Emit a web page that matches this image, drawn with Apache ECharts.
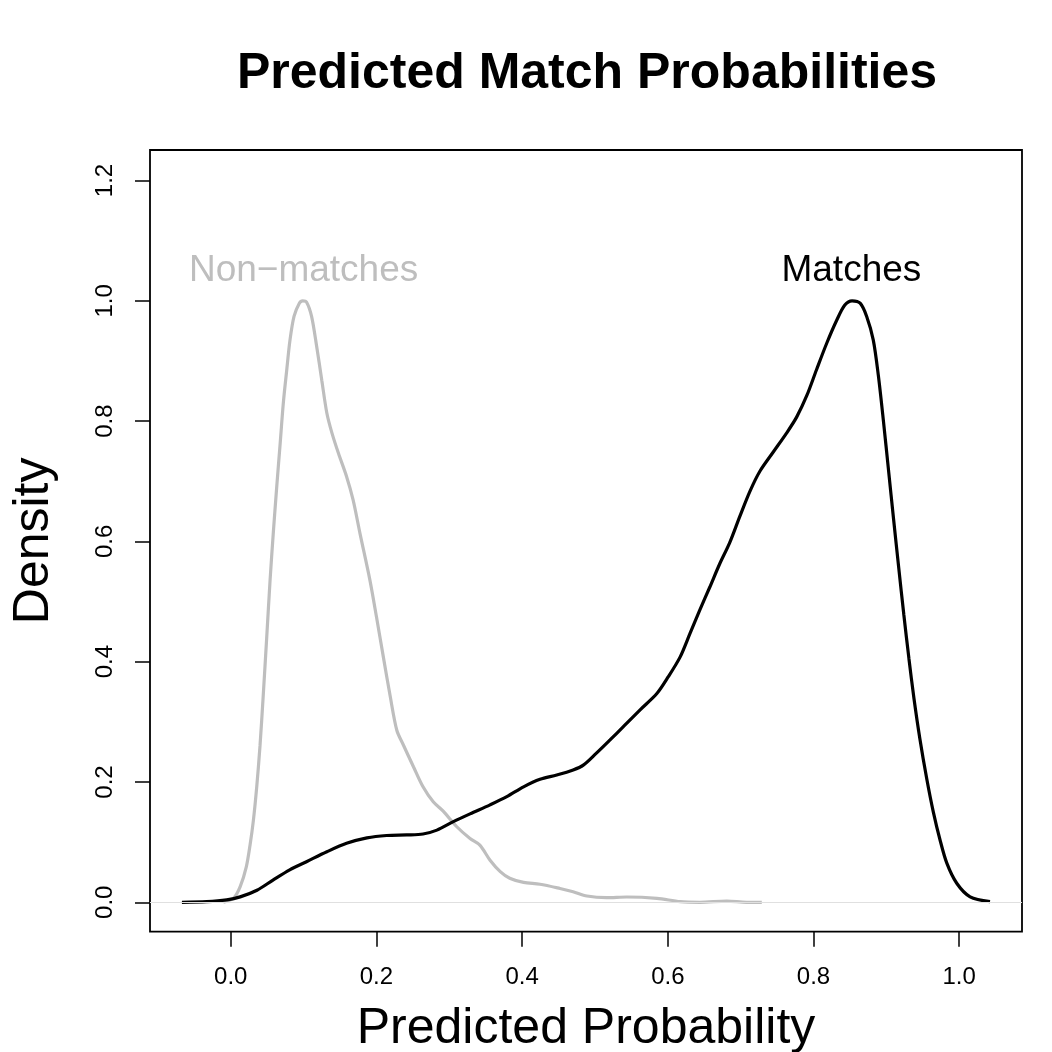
<!DOCTYPE html>
<html>
<head>
<meta charset="utf-8">
<script src="https://cdn.jsdelivr.net/npm/echarts@6/dist/echarts.min.js"></script>
<style>html,body{margin:0;padding:0;background:#fff;}#chart{width:1052px;height:1052px;}</style>
</head>
<body>
<div id="chart"></div>
<script>
// Non-matches density (gray)
const nonMatchX = [-0.01, 0.004, 0.013, 0.0214, 0.0265, 0.031, 0.0357, 0.0402, 0.0447, 0.0494, 0.054, 0.0585, 0.0631, 0.0677, 0.0722, 0.0769, 0.0814, 0.0869, 0.0942, 0.0988, 0.104, 0.111, 0.118, 0.125, 0.132, 0.139, 0.148, 0.159, 0.168, 0.1775, 0.191, 0.200, 0.2095, 0.219, 0.228, 0.237, 0.251, 0.264, 0.278, 0.292, 0.310, 0.3285, 0.342, 0.356, 0.370, 0.383, 0.402, 0.4246, 0.452, 0.470, 0.489, 0.516, 0.5436, 0.585, 0.617, 0.644, 0.681, 0.708, 0.729];
const nonMatchY = [0.0, 0.007, 0.026, 0.059, 0.095, 0.135, 0.192, 0.26, 0.345, 0.44, 0.535, 0.615, 0.69, 0.76, 0.83, 0.885, 0.935, 0.974, 0.996, 1.0, 0.998, 0.974, 0.924, 0.868, 0.813, 0.780, 0.746, 0.708, 0.669, 0.613, 0.536, 0.475, 0.408, 0.342, 0.286, 0.2615, 0.225, 0.192, 0.167, 0.151, 0.126, 0.106, 0.095, 0.070, 0.051, 0.040, 0.033, 0.030, 0.023, 0.0176, 0.0105, 0.0077, 0.0088, 0.0066, 0.001, 0.0, 0.002, 0.0, 0.0];
// Matches density (black)
const matchX = [-0.067, -0.033, -0.0055, 0.013, 0.036, 0.058, 0.081, 0.104, 0.132, 0.159, 0.187, 0.214, 0.2416, 0.264, 0.283, 0.3056, 0.3285, 0.356, 0.379, 0.402, 0.4246, 0.4475, 0.470, 0.484, 0.502, 0.5207, 0.539, 0.562, 0.585, 0.6007, 0.617, 0.6305, 0.644, 0.658, 0.671, 0.685, 0.699, 0.713, 0.7266, 0.745, 0.763, 0.777, 0.791, 0.804, 0.818, 0.832, 0.843, 0.853, 0.864, 0.873, 0.882, 0.889, 0.896, 0.903, 0.910, 0.917, 0.924, 0.931, 0.938, 0.946, 0.9555, 0.9645, 0.9737, 0.983, 0.9966, 1.015, 1.0423];
const matchY = [0.0, 0.001, 0.004, 0.009, 0.020, 0.037, 0.054, 0.0675, 0.084, 0.098, 0.107, 0.111, 0.112, 0.1135, 0.120, 0.134, 0.147, 0.162, 0.1756, 0.192, 0.2045, 0.2116, 0.220, 0.228, 0.248, 0.270, 0.292, 0.320, 0.347, 0.375, 0.408, 0.447, 0.486, 0.525, 0.562, 0.598, 0.642, 0.684, 0.717, 0.749, 0.780, 0.807, 0.843, 0.885, 0.929, 0.968, 0.993, 1.0, 0.996, 0.974, 0.935, 0.876, 0.800, 0.718, 0.636, 0.556, 0.478, 0.405, 0.338, 0.272, 0.205, 0.150, 0.1036, 0.065, 0.0316, 0.009, 0.001];
// Tick labels
const xTicks = [0.0, 0.2, 0.4, 0.6, 0.8, 1.0];
const yTicks = [0.0, 0.2, 0.4, 0.6, 0.8, 1.0, 1.2];
// Annotations
const annText = ['Non\u2212matches', 'Matches'];
const annX = [0.1, 0.852];
const annY = [1.05, 1.05];
const annColor = ['#bebebe', '#000000'];

const FONT = 'Liberation Sans, Arial, Helvetica, sans-serif';
const chart = echarts.init(document.getElementById('chart'), null, {renderer: 'canvas'});
const zip = (a, b) => a.map((v, i) => [v, b[i]]);

chart.setOption({
  animation: false,
  backgroundColor: '#ffffff',
  title: {
    text: 'Predicted Match Probabilities',
    left: 587, top: 49, textAlign: 'center', padding: 0,
    textStyle: {fontFamily: FONT, fontSize: 50, fontWeight: 'bold', color: '#000'}
  },
  grid: {
    left: 150, right: 30, top: 150, bottom: 120.3,
    containLabel: false, outerBoundsMode: 'none',
    show: true, borderColor: '#000', borderWidth: 1.8, backgroundColor: 'transparent'
  },
  xAxis: {
    type: 'value', min: -0.1108, max: 1.0862,
    name: 'Predicted Probability', nameLocation: 'middle', nameGap: 73,
    nameTextStyle: {fontFamily: FONT, fontSize: 50, color: '#000'},
    axisLine: {show: false, onZero: false},
    axisTick: {show: true, length: 15, customValues: xTicks, lineStyle: {color: '#000', width: 1.5}},
    axisLabel: {customValues: xTicks, margin: 34, fontFamily: FONT, fontSize: 24, color: '#000',
      formatter: v => v.toFixed(1)},
    splitLine: {show: false}
  },
  yAxis: {
    type: 'value', min: -0.0489, max: 1.2507,
    name: 'Density', nameLocation: 'middle', nameGap: 91, nameRotate: 90,
    nameTextStyle: {fontFamily: FONT, fontSize: 50, color: '#000'},
    axisLine: {show: false, onZero: false},
    axisTick: {show: true, length: 15, customValues: yTicks, lineStyle: {color: '#000', width: 1.5}},
    axisLabel: {customValues: yTicks, margin: 33, rotate: 90, fontFamily: FONT, fontSize: 24, color: '#000',
      formatter: v => v.toFixed(1)},
    splitLine: {show: false}
  },
  series: [
    {
      type: 'line', name: 'Non-matches', data: zip(nonMatchX, nonMatchY),
      showSymbol: false, smooth: 0.3, lineStyle: {color: '#bebebe', width: 3.2}, itemStyle: {color: '#bebebe'},
      markLine: {
        silent: true, symbol: 'none', label: {show: false},
        lineStyle: {color: '#e0e0e0', width: 1, type: 'solid'},
        data: [{yAxis: 0}]
      },
      z: 2
    },
    {
      type: 'line', name: 'Matches', data: zip(matchX, matchY),
      showSymbol: false, smooth: 0.3, lineStyle: {color: '#000', width: 3.2}, itemStyle: {color: '#000'},
      z: 3
    },
    {
      type: 'custom', name: 'annotations', z: 4, silent: true,
      data: annX.map((x, i) => [x, annY[i]]),
      renderItem: (params, api) => {
        const p = api.coord([api.value(0), api.value(1)]);
        const i = params.dataIndex;
        return {
          type: 'text', x: p[0], y: p[1],
          style: {text: annText[i], fill: annColor[i], fontFamily: FONT, fontSize: 37,
            align: 'center', verticalAlign: 'middle'}
        };
      }
    }
  ]
});
</script>
</body>
</html>
